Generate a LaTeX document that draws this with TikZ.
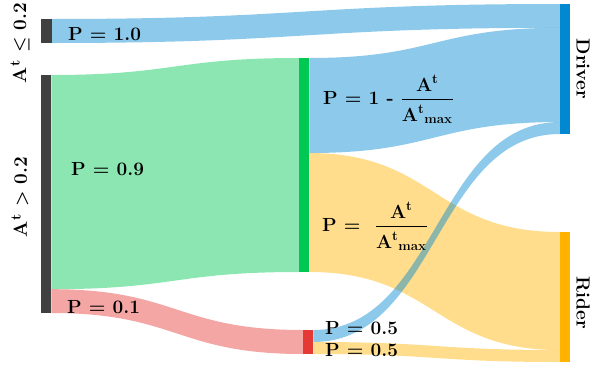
\documentclass[tikz,border=0pt]{standalone}
\usepackage{amsmath}
\usepackage{tikz}
\usetikzlibrary{calc}
\definecolor{nodegray}{HTML}{404040}
\definecolor{flowgreen}{HTML}{00C853}
\definecolor{flowred}{HTML}{E53935}
\definecolor{driverblue}{HTML}{0288D1}
\definecolor{rideryellow}{HTML}{FFB300}

% band between two node edges, horizontal at both ends
\newcommand{\sankeyflow}[5]{%
  \fill[#1, opacity=0.45] let \p1=(#2), \p2=(#3), \p3=(#4), \p4=(#5) in
    (\p1) .. controls ({(\x1+\x3)/2},\y1) and ({(\x1+\x3)/2},\y3) .. (\p3)
    -- (\p4) .. controls ({(\x1+\x3)/2},\y4) and ({(\x1+\x3)/2},\y2) .. (\p2) -- cycle;}
% A^t over A^t_max
\newcommand{\ratiofrac}{$\dfrac{\text{A}^{\text{t}}\rule[-4pt]{0pt}{0pt}}{\rule{0pt}{19pt}\text{A}^{\text{t}}{}_{\text{max}}}$}

\begin{document}
\begin{tikzpicture}[
    x=1pt, y=-1pt,
    every node/.style={font=\fontsize{19}{22}\selectfont\bfseries\boldmath},
    bar/.style={draw=none, fill=#1, minimum width=10.5pt, inner sep=0pt, outer sep=0pt},
    prob/.style={anchor=base west, inner sep=0pt}
]
    \useasboundingbox (0,0) rectangle (594,367);

    % Nodes
    \node[bar=nodegray, minimum height=24pt] (lo) at (46.5,31) {};
    \node[bar=nodegray, minimum height=238pt] (hi) at (46,194) {};
    \node[bar=flowgreen, minimum height=214pt] (mid) at (304,165) {};
    \node[bar=flowred, minimum height=24pt] (low) at (308,342) {};
    \node[bar=driverblue, minimum height=130pt] (drv) at (565,69) {};
    \node[bar=rideryellow, minimum height=130pt] (rdr) at (565,297) {};

    % Split points
    \coordinate (hisplit) at ($(hi.north east)!0.9!(hi.south east)$);
    \coordinate (midsplit) at ($(mid.north east)!0.444!(mid.south east)$);
    \coordinate (drvA) at ($(drv.north west)!0.183!(drv.south west)$);
    \coordinate (drvB) at ($(drv.north west)!0.908!(drv.south west)$);
    \coordinate (rdrA) at ($(rdr.north west)!0.908!(rdr.south west)$);

    % Flows
    \sankeyflow{driverblue}{lo.north east}{lo.south east}{drv.north west}{drvA}
    \sankeyflow{flowgreen}{hi.north east}{hisplit}{mid.north west}{mid.south west}
    \sankeyflow{flowred}{hisplit}{hi.south east}{low.north west}{low.south west}
    \sankeyflow{rideryellow}{midsplit}{mid.south east}{rdr.north west}{rdrA}
    \sankeyflow{rideryellow}{low.east}{low.south east}{rdrA}{rdr.south west}
    \sankeyflow{driverblue}{mid.north east}{midsplit}{drvA}{drvB}
    \sankeyflow{driverblue}{low.north east}{low.east}{drvB}{drv.south west}

    % Redraw bars on top
    \fill[nodegray] (lo.north west) rectangle (lo.south east);
    \fill[nodegray] (hi.north west) rectangle (hi.south east);
    \fill[flowgreen] (mid.north west) rectangle (mid.south east);
    \fill[flowred] (low.north west) rectangle (low.south east);
    \fill[driverblue] (drv.north west) rectangle (drv.south east);
    \fill[rideryellow] (rdr.north west) rectangle (rdr.south east);

    % Node labels
    \node[rotate=90] (loText) at (20,43) {A$^{\mathbf{t}}$ $\leq$ 0.2};
    \node[rotate=90] (hiText) at (20,197) {A$^{\mathbf{t}}$ $>$ 0.2};
    \node[rotate=-90] (drvText) at (583,69) {Driver};
    \node[rotate=-90] (rdrText) at (583,303) {Rider};

    % Probabilities
    \node[prob] (pLo) at (68,40) {P = 1.0};
    \node[prob] (pHi) at (71,175) {P = 0.9};
    \node[prob] (pLow) at (67,313) {P = 0.1};
    \node[prob] (pDrv) at (323,104) {P = 1 - \ratiofrac};
    \node[prob] (pRdr) at (322,231) {P = \ \ratiofrac};
    \node[prob] (pLowDrv) at (325,334) {P = 0.5};
    \node[prob] (pLowRdr) at (325,356) {P = 0.5};
\end{tikzpicture}
\end{document}
